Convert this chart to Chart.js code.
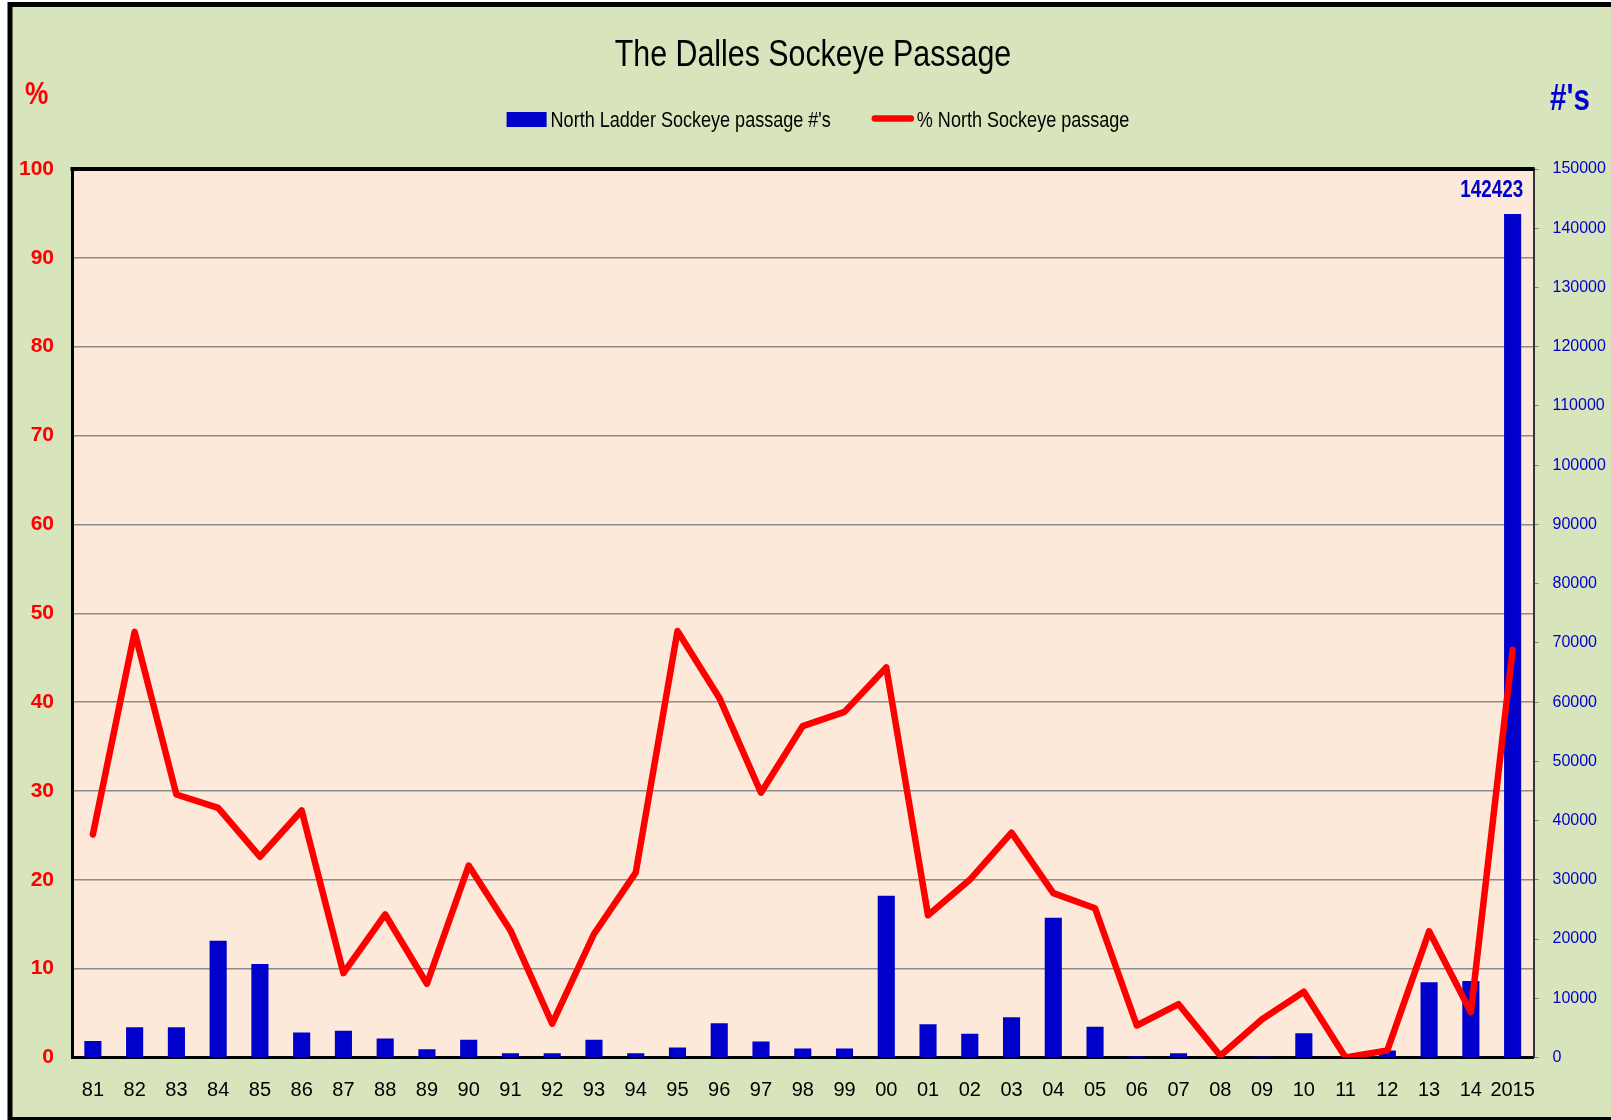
<!DOCTYPE html>
<html>
<head>
<meta charset="utf-8">
<title>The Dalles Sockeye Passage</title>
<script src="https://cdn.jsdelivr.net/npm/chart.js@4.4.1/dist/chart.umd.min.js"></script>
<style>
  body { margin: 0; background: #fff; overflow: hidden; }
  canvas { display: block; }
</style>
</head>
<body>
<canvas id="myChart" width="1611" height="1120"></canvas>
<script>
// data
const years = ['81','82','83','84','85','86','87','88','89','90','91','92','93','94','95','96','97','98','99',
               '00','01','02','03','04','05','06','07','08','09','10','11','12','13','14','2015'];
const northLadderFish = [2800, 5100, 5100, 19700, 15800, 4200, 4500, 3200, 1400, 3000, 700, 700, 3000, 700, 1700,
                         5800, 2700, 1500, 1500, 27300, 5600, 4000, 6800, 23600, 5200, 200, 700, 0, 150, 4100,
                         0, 1200, 12700, 12900, 142423];
const northPercent = [25.1, 47.9, 29.6, 28.1, 22.6, 27.8, 9.5, 16.1, 8.3, 21.6, 14.3, 3.8, 13.9, 20.8, 48.0,
                      40.5, 29.8, 37.3, 38.9, 43.9, 16.0, 20.0, 25.3, 18.5, 16.8, 3.6, 6.0, 0.2, 4.3, 7.4,
                      0.0, 0.8, 14.2, 5.1, 45.9];
const pctAxis = {min: 0, max: 100, step: 10};
const fishAxis = {min: 0, max: 150000, step: 10000};
const chartTitle = 'The Dalles Sockeye Passage';
const barLabel = "North Ladder Sockeye passage #'s";
const lineLabel = '% North Sockeye passage';

const FONT = "'Liberation Sans', Arial, sans-serif";
const NARROW = 0.82;   // squeeze plugin text like a narrow face
const BLUE = '#0000cc';
const RED = '#ff0000';

function narrowText(ctx, text, x, y, align) {
  ctx.save();
  ctx.translate(x, y);
  ctx.scale(NARROW, 1);
  ctx.textAlign = align || 'left';
  ctx.fillText(text, 0, 0);
  ctx.restore();
}

// background, frame, title, legend and labels
const sheetPlugin = {
  id: 'sheet',
  beforeDraw(chart) {
    const {ctx, width, height, chartArea: a} = chart;
    ctx.save();
    ctx.fillStyle = '#fff';
    ctx.fillRect(0, 0, width, height);
    ctx.fillStyle = '#d8e4bc';
    ctx.fillRect(10, 4, width, height);
    ctx.strokeStyle = '#000';
    ctx.lineWidth = 5;
    ctx.strokeRect(10, 4.5, width + 40, 1115);
    ctx.fillStyle = '#fde9d9';
    ctx.fillRect(a.left, a.top, a.right - a.left, a.bottom - a.top);
    ctx.restore();
  },
  afterDraw(chart) {
    const {ctx, chartArea: a} = chart;
    ctx.save();
    // top edge of the plot box
    ctx.strokeStyle = '#000';
    ctx.lineWidth = 4;
    ctx.beginPath();
    ctx.moveTo(a.left - 1.5, a.top);
    ctx.lineTo(a.right + 1, a.top);
    ctx.stroke();

    ctx.textBaseline = 'alphabetic';

    // title
    ctx.fillStyle = '#000';
    ctx.font = '37px ' + FONT;
    narrowText(ctx, chartTitle, 813, 66, 'center');

    // legend
    ctx.font = '22px ' + FONT;
    const w1 = ctx.measureText(barLabel).width * NARROW;
    const w2 = ctx.measureText(lineLabel).width * NARROW;
    const total = 40 + 4 + w1 + 41 + 42 + 3 + w2;
    let x = 818 - total / 2;
    ctx.fillStyle = BLUE;
    ctx.fillRect(x, 112, 40, 15);
    x += 44;
    ctx.fillStyle = '#000';
    narrowText(ctx, barLabel, x, 127);
    x += w1 + 41;
    ctx.strokeStyle = RED;
    ctx.lineWidth = 6.5;
    ctx.lineCap = 'round';
    ctx.beginPath();
    ctx.moveTo(x + 3, 118.5);
    ctx.lineTo(x + 39, 118.5);
    ctx.stroke();
    x += 45;
    narrowText(ctx, lineLabel, x, 127);

    // axis symbols
    ctx.font = 'bold 32px ' + FONT;
    ctx.fillStyle = RED;
    narrowText(ctx, '%', 25, 104);
    ctx.font = 'bold 36px ' + FONT;
    ctx.fillStyle = BLUE;
    narrowText(ctx, "#'s", 1550, 110);

    // value label over the last bar
    const meta = chart.getDatasetMeta(0);
    const last = meta.data[meta.data.length - 1];
    ctx.font = 'bold 23px ' + FONT;
    narrowText(ctx, String(northLadderFish[northLadderFish.length - 1]),
               last.x + last.width / 2 + 2, last.y - 17, 'right');
    ctx.restore();
  }
};

const ctx = document.getElementById('myChart').getContext('2d');
const chart = new Chart(ctx, {
  type: 'bar',
  data: {
    labels: years,
    datasets: [
      {
        type: 'bar',
        label: barLabel,
        data: northLadderFish,
        yAxisID: 'y1',
        backgroundColor: BLUE,
        barPercentage: 0.41,
        categoryPercentage: 1.0,
        order: 1
      },
      {
        type: 'line',
        label: lineLabel,
        data: northPercent,
        yAxisID: 'y',
        borderColor: RED,
        backgroundColor: RED,
        borderWidth: 6.5,
        borderJoinStyle: 'round',
        borderCapStyle: 'round',
        pointRadius: 0,
        tension: 0,
        order: 0
      }
    ]
  },
  options: {
    responsive: false,
    animation: false,
    devicePixelRatio: 1,
    layout: { padding: { top: 169, left: 0, right: 0, bottom: 0 } },
    plugins: {
      legend: { display: false },
      title: { display: false },
      tooltip: { enabled: false }
    },
    scales: {
      x: {
        offset: true,
        grid: { display: false, drawTicks: false },
        border: { display: true, color: '#000', width: 3 },
        ticks: { color: '#000', font: { family: FONT, size: 20 }, padding: 21, maxRotation: 0, autoSkip: false },
        afterFit(scale) { scale.height = 62.5; }
      },
      y: {
        position: 'left',
        min: pctAxis.min,
        max: pctAxis.max,
        grid: { color: '#8c8c8c', lineWidth: 1.5, drawTicks: false },
        border: { display: true, color: '#000', width: 3 },
        ticks: { stepSize: pctAxis.step, color: RED, font: { family: FONT, size: 21, weight: 'bold' }, padding: 18 },
        afterFit(scale) { scale.width = 72; }
      },
      y1: {
        position: 'right',
        min: fishAxis.min,
        max: fishAxis.max,
        grid: { drawOnChartArea: false, drawTicks: true, tickLength: 5, color: '#808080', lineWidth: 1 },
        border: { display: true, color: '#333', width: 2 },
        ticks: {
          stepSize: fishAxis.step,
          color: BLUE,
          font: { family: FONT, size: 16 },
          padding: 14,
          callback: v => String(v)
        },
        afterFit(scale) { scale.width = 77.5; }
      }
    }
  },
  plugins: [sheetPlugin]
});
</script>
</body>
</html>
